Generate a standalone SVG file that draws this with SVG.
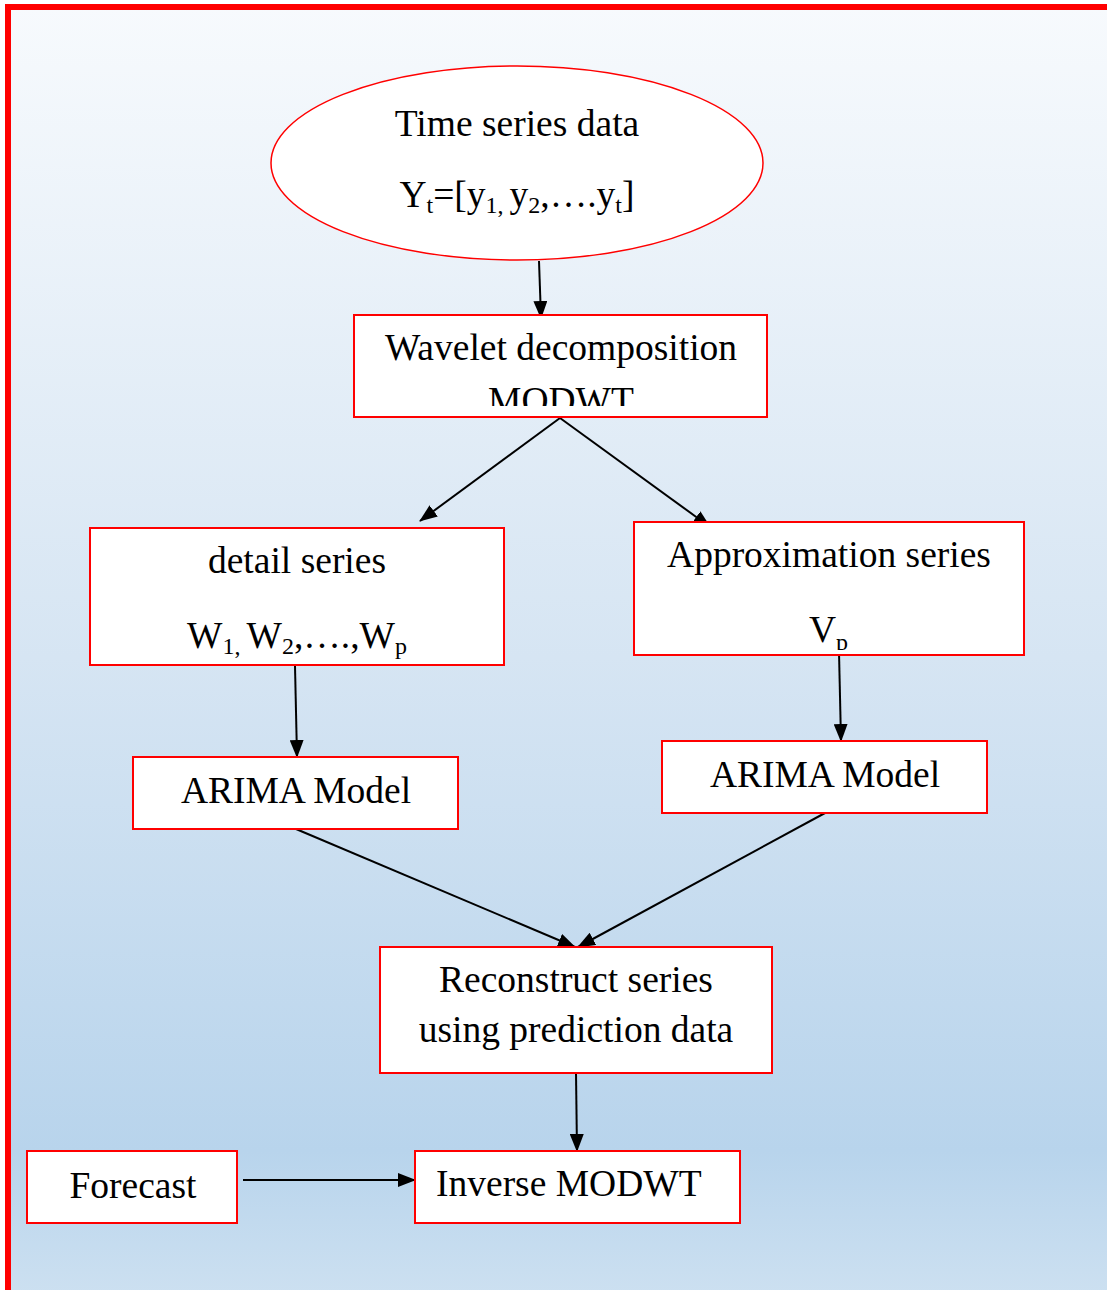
<svg xmlns="http://www.w3.org/2000/svg" width="1107" height="1290" viewBox="0 0 1107 1290">
<defs>
<linearGradient id="bg" x1="0" y1="0" x2="0" y2="1">
<stop offset="0" stop-color="#f7fafd"/>
<stop offset="0.5" stop-color="#d6e5f3"/>
<stop offset="0.88" stop-color="#b8d4ec"/>
<stop offset="1" stop-color="#cee1f1"/>
</linearGradient>
<marker id="ah" markerUnits="userSpaceOnUse" markerWidth="18" markerHeight="14" refX="17" refY="7" orient="auto">
<path d="M0,0 L18,7 L0,14 Z" fill="#000"/>
</marker>
<clipPath id="c1"><rect x="355" y="316" width="411" height="90"/></clipPath>
<clipPath id="c2"><rect x="635" y="523" width="388" height="127"/></clipPath>
<style>
.box{fill:#fff;stroke:#ff0000;stroke-width:2}
.t{font-family:"Liberation Serif","Times New Roman",serif;font-size:37.5px;fill:#000}
.c{text-anchor:middle}
.ln{stroke:#000;stroke-width:2;fill:none;marker-end:url(#ah)}
</style>
</defs>
<rect x="0" y="0" width="1107" height="1290" fill="#fff"/>
<rect x="8" y="7" width="1110" height="1300" fill="url(#bg)" stroke="#ff0000" stroke-width="6"/>

<g id="connectors">
<line class="ln" x1="539" y1="261" x2="541" y2="318"/>
<line class="ln" x1="560" y1="418" x2="420" y2="521"/>
<line class="ln" x1="560" y1="418" x2="710" y2="527"/>
<line class="ln" x1="295" y1="666" x2="297" y2="757"/>
<line class="ln" x1="839" y1="652" x2="841" y2="741"/>
<line class="ln" x1="296" y1="829" x2="575" y2="947"/>
<line class="ln" x1="825" y1="813" x2="578" y2="947"/>
<line class="ln" x1="576" y1="1073" x2="577" y2="1151"/>
<line class="ln" x1="243" y1="1180" x2="415" y2="1180"/>
</g>

<g id="node-timeseries">
<ellipse cx="517" cy="163" rx="246" ry="97" fill="#fff" stroke="#ff0000" stroke-width="1.5"/>
<text class="t c" x="517" y="136">Time series data</text>
<text class="t c" x="517" y="207">Y<tspan font-size="24" dy="6">t</tspan><tspan dy="-6">=[y</tspan><tspan font-size="24" dy="6">1, </tspan><tspan dy="-6">y</tspan><tspan font-size="24" dy="6">2</tspan><tspan dy="-6">,….y</tspan><tspan font-size="24" dy="6">t</tspan><tspan dy="-6">]</tspan></text>
</g>

<g id="node-wavelet">
<rect class="box" x="354" y="315" width="413" height="102"/>
<text class="t c" x="561" y="360">Wavelet decomposition</text>
<text class="t c" x="561" y="413" clip-path="url(#c1)">MODWT</text>
</g>

<g id="node-detail">
<rect class="box" x="90" y="528" width="414" height="137"/>
<text class="t c" x="297" y="573">detail series</text>
<text class="t c" x="297" y="648">W<tspan font-size="24" dy="6">1, </tspan><tspan dy="-6">W</tspan><tspan font-size="24" dy="6">2</tspan><tspan dy="-6">,….,W</tspan><tspan font-size="24" dy="6">p</tspan></text>
</g>

<g id="node-approx">
<rect class="box" x="634" y="522" width="390" height="133"/>
<text class="t c" x="829" y="567">Approximation series</text>
<text class="t" x="809" y="642" clip-path="url(#c2)">V<tspan font-size="24" dy="8">p</tspan></text>
</g>

<g id="node-arima-left">
<rect class="box" x="133" y="757" width="325" height="72"/>
<text class="t c" x="296" y="803">ARIMA Model</text>
</g>

<g id="node-arima-right">
<rect class="box" x="662" y="741" width="325" height="72"/>
<text class="t c" x="825" y="787">ARIMA Model</text>
</g>

<g id="node-reconstruct">
<rect class="box" x="380" y="947" width="392" height="126"/>
<text class="t c" x="576" y="992">Reconstruct series</text>
<text class="t c" x="576" y="1042">using prediction data</text>
</g>

<g id="node-forecast">
<rect class="box" x="27" y="1151" width="210" height="72"/>
<text class="t c" x="133" y="1198">Forecast</text>
</g>

<g id="node-inverse">
<rect class="box" x="415" y="1151" width="325" height="72"/>
<text class="t" x="436" y="1196">Inverse MODWT</text>
</g>
</svg>
